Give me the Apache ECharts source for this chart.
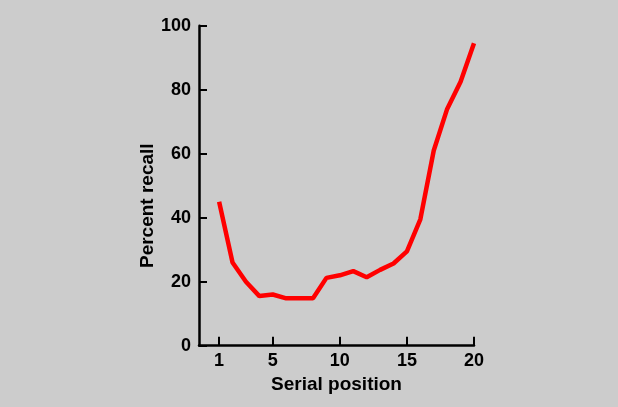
<!DOCTYPE html>
<html>
<head>
<meta charset="utf-8">
<script src="https://cdn.jsdelivr.net/npm/echarts@6/dist/echarts.min.js"></script>
<style>
html,body{margin:0;padding:0;background:#cccccc;}
#c{width:618px;height:407px;}
</style>
</head>
<body>
<div id="c"></div>
<script>
const positions = [1,2,3,4,5,6,7,8,9,10,11,12,13,14,15,16,17,18,19,20];
const recall = [45,26,20,15.5,16,14.8,14.8,14.8,21.2,22,23.3,21.4,23.7,25.7,29.5,39.5,61,74,82.5,94.5];
const xTicks = [1,5,10,15,20];

const font = 'Liberation Sans, Arial, Helvetica, sans-serif';
const chart = echarts.init(document.getElementById('c'));
chart.setOption({
  backgroundColor: '#cccccc',
  animation: false,
  grid: {left: 199, right: 144, top: 25.7, bottom: 61.3, containLabel: false, outerBoundsMode: 'none'},
  xAxis: {
    type: 'value', min: -0.5, max: 20,
    name: 'Serial position', nameLocation: 'middle', nameGap: 30,
    nameTextStyle: {color: '#000', fontFamily: font, fontWeight: 'bold', fontSize: 19},
    axisLine: {onZero: false, lineStyle: {color: '#000', width: 2.5}},
    axisTick: {inside: true, length: 9, lineStyle: {color: '#000', width: 2}, customValues: xTicks},
    axisLabel: {color: '#000', fontFamily: font, fontWeight: 'bold', fontSize: 18, margin: 6, customValues: xTicks},
    splitLine: {show: false}
  },
  yAxis: {
    type: 'value', min: 0, max: 100, interval: 20,
    name: 'Percent recall', nameLocation: 'middle', nameGap: 18, nameRotate: 90,
    nameTextStyle: {color: '#000', fontFamily: font, fontWeight: 'bold', fontSize: 19, padding: [0, 40, 0, 0]},
    axisLine: {onZero: false, lineStyle: {color: '#000', width: 2.5}},
    axisTick: {inside: true, length: 8, lineStyle: {color: '#000', width: 2}},
    axisLabel: {color: '#000', fontFamily: font, fontWeight: 'bold', fontSize: 18, margin: 8},
    splitLine: {show: false}
  },
  series: [{
    type: 'line',
    data: positions.map((p, i) => [p, recall[i]]),
    symbol: 'none',
    lineStyle: {color: '#ff0000', width: 4.5},
    itemStyle: {color: '#ff0000'}
  }]
});
</script>
</body>
</html>
